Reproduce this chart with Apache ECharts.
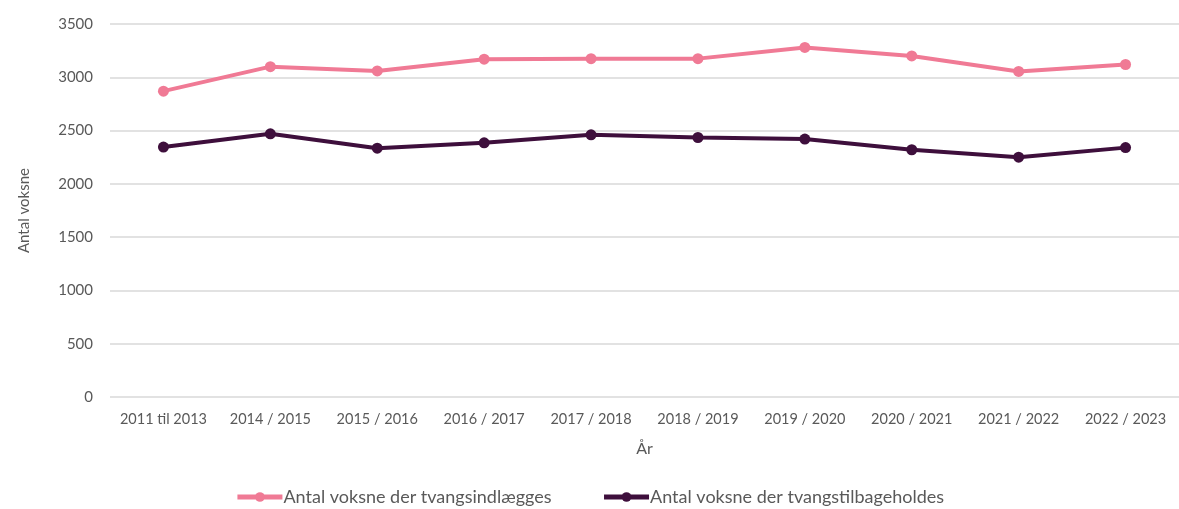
<!DOCTYPE html>
<html><head><meta charset="utf-8">
<script src="https://cdn.jsdelivr.net/npm/echarts@6/dist/echarts.min.js"></script>
<style>html,body{margin:0;padding:0;background:#fff}#c{width:1179px;height:509px}</style>
</head><body><div id="c"></div>
<script>
const categories = ['2011 til 2013','2014 / 2015','2015 / 2016','2016 / 2017','2017 / 2018','2018 / 2019','2019 / 2020','2020 / 2021','2021 / 2022','2022 / 2023'];
const tvangsindlaegges = [2870,3100,3060,3170,3175,3175,3280,3200,3055,3120];
const tvangstilbageholdes = [2345,2470,2335,2385,2460,2435,2420,2320,2250,2340];
const seriesNames = ['Antal voksne der tvangsindlægges','Antal voksne der tvangstilbageholdes'];
const font = 'Lato, "Open Sans", sans-serif';
const chart = echarts.init(document.getElementById('c'));
chart.setOption({
  animation:false,
  grid:{left:110,right:0,top:24,bottom:112},
  legend:{bottom:-2,itemWidth:45,itemHeight:12,itemGap:50,
    lineStyle:{width:5},
    textStyle:{fontFamily:font,fontSize:18,color:'#595959',padding:[0,0,0,-4]},
    data:seriesNames},
  xAxis:{type:'category',data:categories,name:'År',nameLocation:'middle',nameGap:44,
    nameTextStyle:{fontFamily:font,fontSize:16,color:'#595959'},
    axisLine:{show:false},axisTick:{show:false},
    axisLabel:{interval:0,fontFamily:font,fontSize:14.5,color:'#595959',margin:15}},
  yAxis:{type:'value',min:0,max:3500,interval:500,name:'Antal voksne',nameLocation:'middle',nameGap:78,
    nameTextStyle:{fontFamily:font,fontSize:15,color:'#595959'},
    axisLabel:{fontFamily:font,fontSize:15,color:'#595959',margin:17,formatter:v=>String(v)},
    splitLine:{lineStyle:{color:'#d9d9d9',width:1.5}}},
  series:[
    {name:seriesNames[0],type:'line',data:tvangsindlaegges,symbol:'circle',symbolSize:11,
      lineStyle:{width:4,color:'#f07a95'},itemStyle:{color:'#f07a95'}},
    {name:seriesNames[1],type:'line',data:tvangstilbageholdes,symbol:'circle',symbolSize:11,
      lineStyle:{width:4,color:'#3e0f3c'},itemStyle:{color:'#3e0f3c'}}
  ]
});
</script></body></html>
